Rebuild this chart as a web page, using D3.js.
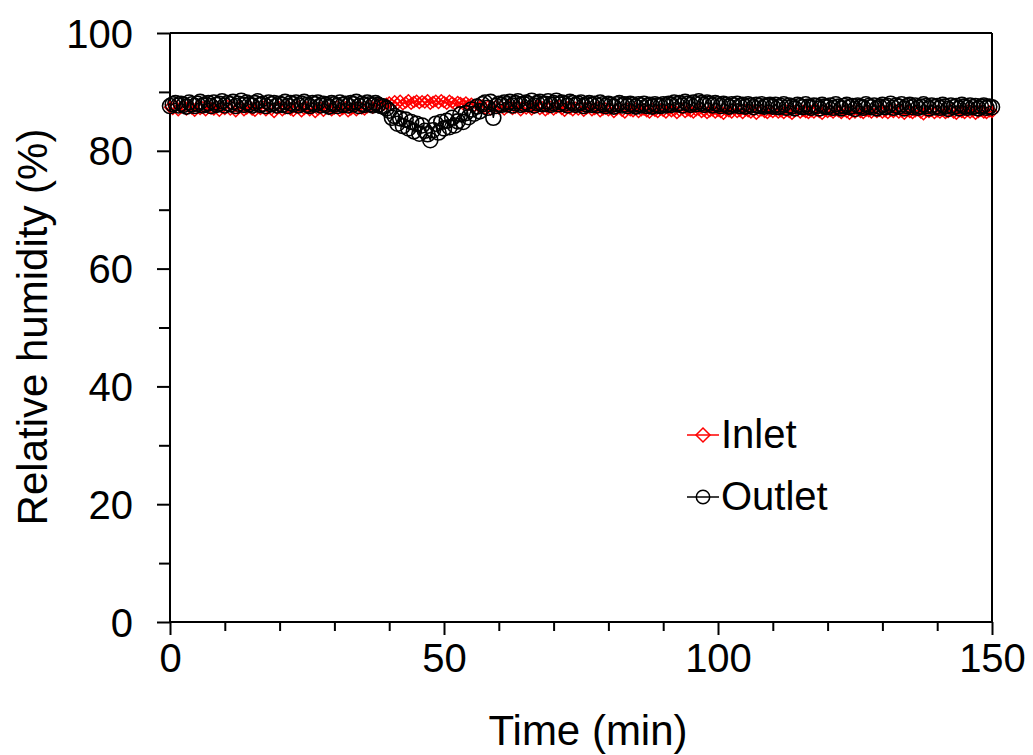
<!DOCTYPE html>
<html>
<head>
<meta charset="utf-8">
<script src="https://cdn.jsdelivr.net/npm/d3@7"></script>
<style>
  html, body { margin: 0; padding: 0; background: #fff; }
  svg { display: block; }
</style>
</head>
<body>
<svg id="chart" width="1033" height="755"></svg>
<script>
// ---- data (sampled every 0.5 min, 0 to 150 min) ----
const timeStep = 0.5;
const seriesNames = ["Inlet", "Outlet"];
const xTickLabels = [0, 50, 100, 150];
const yTickLabels = [0, 20, 40, 60, 80, 100];

const inletRH = [
  87.4,87.1,87.6,86.9,87.3,87.5,87.0,87.7,87.2,86.8,87.5,87.1,87.4,86.9,87.6,87.2,87.0,87.5,86.8,87.3,
  87.1,87.6,87.0,87.4,86.7,87.3,87.5,86.9,87.2,87.6,87.0,86.8,87.4,87.1,87.5,86.9,87.3,87.0,86.6,87.2,
  87.4,86.9,87.2,87.6,87.0,86.8,87.3,87.5,86.7,87.1,87.4,86.9,87.2,86.6,87.0,87.3,86.8,87.5,87.1,86.9,
  87.2,87.5,86.8,87.1,87.4,86.7,87.0,87.3,86.9,87.6,87.2,87.0,87.4,87.7,87.3,87.6,87.9,87.5,87.8,88.0,
  88.2,87.8,88.4,88.0,88.5,87.9,88.2,88.6,88.0,88.3,88.5,88.1,88.4,88.2,88.6,88.0,88.3,88.5,88.1,88.6,
  88.3,88.0,88.5,88.2,87.9,88.3,88.1,87.9,88.2,87.8,88.0,87.6,87.9,87.4,87.7,87.2,87.5,87.0,87.3,87.6,
  87.2,87.5,87.0,87.4,87.7,87.1,87.3,87.6,86.9,87.4,87.2,87.5,87.0,87.3,87.6,87.1,87.4,86.9,87.2,87.5,
  87.0,87.3,87.6,87.1,86.8,87.4,87.2,86.9,87.3,87.0,87.5,86.8,87.2,87.4,86.9,87.1,87.3,86.7,87.0,87.2,
  86.9,87.1,86.6,87.0,87.3,86.8,86.5,87.1,86.9,86.7,87.2,86.6,86.9,87.0,86.7,86.5,87.1,86.8,86.6,87.0,
  86.8,86.5,87.0,86.7,86.9,86.4,86.8,87.1,86.6,86.9,86.7,86.5,86.9,87.0,86.6,86.8,86.4,86.7,86.9,86.5,
  86.8,86.6,86.3,86.9,86.7,86.5,87.0,86.6,86.8,86.4,86.9,86.7,86.5,86.8,86.3,86.7,86.9,86.6,86.4,86.8,
  86.6,86.9,86.5,86.7,86.4,86.8,86.6,86.3,86.7,86.9,86.5,86.8,86.6,86.4,86.7,86.5,86.9,86.6,86.3,86.8,
  86.6,86.8,86.5,86.9,86.7,86.4,86.8,86.6,86.3,86.7,86.5,86.9,86.6,86.4,86.8,86.7,86.5,86.9,86.6,86.8,
  86.5,86.7,86.4,86.8,86.6,86.9,86.5,86.7,86.3,86.8,86.6,86.4,86.7,86.9,86.5,86.2,86.7,86.6,86.8,86.4,
  86.7,86.5,86.8,86.4,86.6,86.9,86.5,86.3,86.7,86.6,86.4,86.8,86.5,86.7,86.3,86.6,86.8,86.5,86.4,86.7,
  86.6
];

const outletRH = [
  87.6,87.9,88.1,87.7,88.0,87.8,87.5,88.2,87.9,87.6,88.0,88.3,87.7,87.9,88.1,87.6,88.2,87.8,88.0,88.4,
  87.7,88.1,87.9,88.3,87.6,88.0,88.5,87.8,88.2,87.9,87.7,88.1,88.4,87.8,88.0,87.6,88.2,87.9,88.1,87.7,
  88.0,87.8,88.3,87.6,88.1,87.9,88.2,87.7,88.0,88.3,87.8,87.6,88.1,87.9,88.2,87.7,88.0,87.8,87.5,88.1,
  87.9,87.6,88.2,87.8,88.0,87.7,88.1,87.9,88.3,87.6,88.0,87.8,88.2,87.9,87.7,88.1,87.8,87.6,87.5,87.2,
  86.8,85.6,85.9,84.6,85.5,84.2,85.3,83.8,84.9,83.3,84.6,82.9,84.3,83.4,82.8,81.8,83.5,84.6,83.1,84.9,
  83.8,85.1,84.0,85.6,84.3,85.0,86.2,84.9,86.4,85.7,87.0,86.3,87.5,86.7,87.9,88.2,87.3,88.3,85.6,87.6,
  88.0,87.8,88.2,87.9,88.3,87.7,88.1,88.4,87.8,88.0,88.2,87.9,88.5,87.7,88.1,88.3,87.9,88.0,88.4,87.8,
  88.1,88.5,87.9,88.2,88.0,87.7,88.3,88.1,87.8,88.0,88.2,87.6,87.9,88.1,87.8,88.0,87.7,88.2,87.9,87.6,
  88.0,87.8,87.5,87.9,88.1,87.7,87.9,87.6,88.0,87.8,87.5,87.9,87.7,88.0,87.6,87.8,87.5,87.9,87.7,87.6,
  87.9,87.7,88.0,87.8,88.2,87.9,88.1,87.7,88.3,88.0,87.8,88.2,87.9,88.4,88.1,87.8,88.2,88.0,87.7,88.1,
  87.9,87.6,88.0,87.8,87.5,87.9,87.7,88.0,87.6,87.8,87.5,87.9,87.7,87.4,87.8,87.6,87.9,87.5,87.7,87.8,
  87.5,87.8,87.4,87.6,87.9,87.3,87.7,87.5,87.2,87.8,87.6,87.4,87.9,87.5,87.3,87.7,87.6,87.2,87.8,87.5,
  87.4,87.7,87.3,87.9,87.5,87.2,87.6,87.8,87.4,87.6,87.1,87.7,87.5,87.3,87.9,87.6,87.4,87.7,87.2,87.5,
  87.8,87.4,87.6,88.0,87.3,87.7,87.5,87.9,87.2,87.6,87.8,87.4,87.7,87.3,87.5,87.9,87.6,87.2,87.7,87.4,
  87.6,87.3,87.8,87.5,87.1,87.7,87.4,87.6,87.2,87.8,87.5,87.3,87.7,87.4,87.6,87.2,87.5,87.7,87.3,87.5,
  87.4
];

const times = inletRH.map((_, i) => i * timeStep);
const inletData = times.map((t, i) => ({ t, v: inletRH[i] }));
const outletData = times.map((t, i) => ({ t, v: outletRH[i] }));

// ---- layout ----
const svg = d3.select("#chart");
const plotL = 170, plotR = 992, plotT = 33, plotB = 622;
const font = "'Liberation Sans', Arial, Helvetica, sans-serif";

const x = d3.scaleLinear().domain([0, 150]).range([plotL, plotR]);
const y = d3.scaleLinear().domain([0, 100]).range([plotB, plotT]);

// frame (top and right)
svg.append("line").attr("x1", plotL).attr("x2", plotR).attr("y1", plotT).attr("y2", plotT)
  .attr("stroke", "#000").attr("stroke-width", 2);
svg.append("line").attr("x1", plotR).attr("x2", plotR).attr("y1", plotT).attr("y2", plotB)
  .attr("stroke", "#000").attr("stroke-width", 2);

// x axis
const xMinor = d3.range(10, 150, 10).filter(d => d % 50 !== 0);
const xAxisMinor = d3.axisBottom(x).tickValues(xMinor).tickSize(9).tickFormat("");
const xAxis = d3.axisBottom(x).tickValues(xTickLabels).tickSize(13).tickFormat(d3.format("d"));
const gxm = svg.append("g").attr("transform", `translate(0,${plotB})`).call(xAxisMinor);
const gx = svg.append("g").attr("transform", `translate(0,${plotB})`).call(xAxis);
[gxm, gx].forEach(g => {
  g.select(".domain").attr("stroke-width", 2).attr("d", `M${plotL},0H${plotR}`);
  g.selectAll(".tick line").attr("stroke-width", 2);
});
gx.selectAll(".tick text").attr("font-family", font).attr("font-size", 40)
  .attr("fill", "#000").attr("y", 22).attr("dy", "0.71em");

// y axis
const yMinor = [10, 30, 50, 70, 90];
const yAxisMinor = d3.axisLeft(y).tickValues(yMinor).tickSize(11).tickFormat("");
const yAxis = d3.axisLeft(y).tickValues(yTickLabels).tickSize(13).tickFormat(d3.format("d"));
const gym = svg.append("g").attr("transform", `translate(${plotL},0)`).call(yAxisMinor);
const gy = svg.append("g").attr("transform", `translate(${plotL},0)`).call(yAxis);
[gym, gy].forEach(g => {
  g.select(".domain").attr("stroke-width", 2).attr("d", `M0,${plotT}V${plotB}`);
  g.selectAll(".tick line").attr("stroke-width", 2);
});
gy.selectAll(".tick text").attr("font-family", font).attr("font-size", 40)
  .attr("fill", "#000").attr("x", -37).attr("dy", "0.35em");

// axis titles
svg.append("text").attr("x", 588).attr("y", 745).attr("text-anchor", "middle")
  .attr("font-family", font).attr("font-size", 42).attr("fill", "#000").text("Time (min)");
svg.append("text").attr("transform", `translate(47,${327}) rotate(-90)`).attr("text-anchor", "middle")
  .attr("font-family", font).attr("font-size", 42).attr("fill", "#000").text("Relative humidity (%)");

// series
const line = d3.line().x(d => x(d.t)).y(d => y(d.v));
const diamond = (cx, cy, s) => `M${cx},${cy - s}L${cx + s},${cy}L${cx},${cy + s}L${cx - s},${cy}Z`;

const gIn = svg.append("g");
gIn.append("path").datum(inletData).attr("d", line).attr("fill", "none")
  .attr("stroke", "#ff0000").attr("stroke-width", 1.3);
gIn.selectAll("path.pt").data(inletData).enter().append("path").attr("class", "pt")
  .attr("d", d => diamond(x(d.t), y(d.v), 5.5)).attr("fill", "none")
  .attr("stroke", "#ff0000").attr("stroke-width", 1.4);

const gOut = svg.append("g");
gOut.append("path").datum(outletData).attr("d", line).attr("fill", "none")
  .attr("stroke", "#000").attr("stroke-width", 1.3);
gOut.selectAll("circle").data(outletData).enter().append("circle")
  .attr("cx", d => x(d.t)).attr("cy", d => y(d.v)).attr("r", 7.5)
  .attr("fill", "none").attr("stroke", "#000").attr("stroke-width", 1.6);

// legend
const legend = svg.append("g");
const legItems = [
  { name: seriesNames[0], color: "#ff0000", cy: 435, ty: 448 },
  { name: seriesNames[1], color: "#000", cy: 497, ty: 510 }
];
legItems.forEach((it, i) => {
  legend.append("line").attr("x1", 687).attr("x2", 719).attr("y1", it.cy).attr("y2", it.cy)
    .attr("stroke", it.color).attr("stroke-width", 1.5);
  if (i === 0) {
    legend.append("path").attr("d", diamond(703, it.cy, 7)).attr("fill", "none")
      .attr("stroke", it.color).attr("stroke-width", 1.5);
  } else {
    legend.append("circle").attr("cx", 703).attr("cy", it.cy).attr("r", 6.7)
      .attr("fill", "none").attr("stroke", it.color).attr("stroke-width", 1.5);
  }
  legend.append("text").attr("x", 721).attr("y", it.ty).attr("font-family", font)
    .attr("font-size", 40).attr("fill", "#000").text(it.name);
});
</script>
</body>
</html>
